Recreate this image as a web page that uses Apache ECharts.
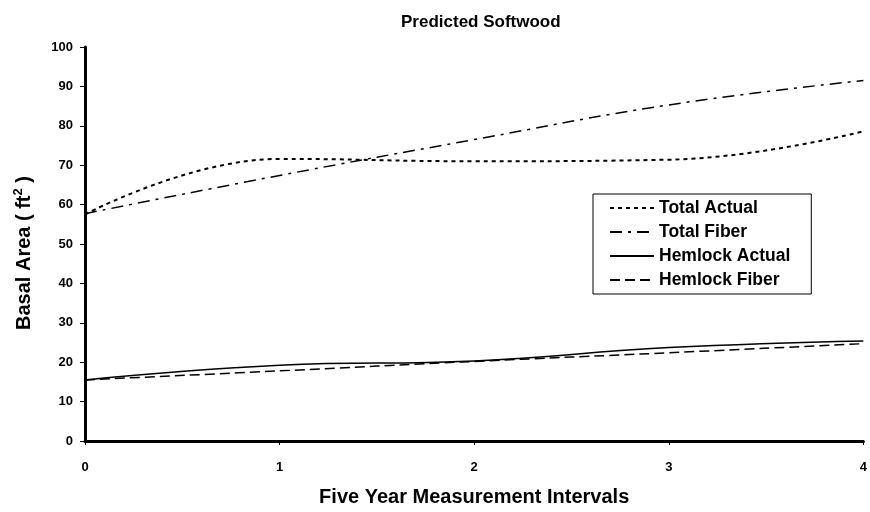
<!DOCTYPE html>
<html>
<head>
<meta charset="utf-8">
<script src="https://cdn.jsdelivr.net/npm/echarts@6/dist/echarts.min.js"></script>
<style>
  html, body { margin: 0; padding: 0; background: #fff; }
  #chart { width: 870px; height: 512px; }
</style>
</head>
<body>
<div id="chart"></div>
<script>
  const intervals = [0, 1, 2, 3, 4];
  const totalActual = [57.5, 71.6, 71.0, 71.4, 78.6];
  const totalFiber = [57.7, 67.4, 76.5, 85.3, 91.5];
  const hemlockActual = [15.5, 19.2, 20.3, 23.7, 25.4];
  const hemlockFiber = [15.5, 17.8, 20.2, 22.4, 24.7];

  const font = "'Liberation Sans', Arial, sans-serif";

  function pairs(vals) {
    return intervals.map((x, i) => [x, vals[i]]);
  }

  function lineSeries(name, vals, type, width) {
    return {
      name: name,
      type: 'line',
      smooth: 0.45,
      symbol: 'none',
      color: '#000',
      data: pairs(vals),
      lineStyle: { color: '#000', width: width, type: type }
    };
  }

  const myChart = echarts.init(document.getElementById('chart'));
  const options = {
    animation: false,
    backgroundColor: '#fff',
    title: {
      text: 'Predicted Softwood',
      left: 396,
      top: 9,
      textStyle: { fontFamily: font, fontSize: 17, fontWeight: 'bold', color: '#000' }
    },
    grid: { left: 85, right: 0, top: 47, bottom: 70 },
    legend: {
      orient: 'vertical',
      left: 593,
      top: 194,
      padding: [5, 21, 5, 16],
      itemWidth: 44,
      itemHeight: 17,
      itemGap: 6,
      borderColor: '#000',
      borderWidth: 1,
      borderRadius: 0,
      itemStyle: { opacity: 0 },
      textStyle: { fontFamily: font, fontSize: 17.5, fontWeight: 'bold', color: '#000' },
      data: ['Total Actual', 'Total Fiber', 'Hemlock Actual', 'Hemlock Fiber']
    },
    xAxis: {
      type: 'value',
      min: 0,
      max: 4,
      interval: 1,
      name: 'Five Year Measurement Intervals',
      nameLocation: 'middle',
      nameGap: 46,
      nameTextStyle: { fontFamily: font, fontSize: 20, fontWeight: 'bold', color: '#000' },
      axisLine: { lineStyle: { color: '#000', width: 3 } },
      axisTick: { show: true, length: 4, lineStyle: { color: '#000', width: 1 } },
      axisLabel: { margin: 20, fontFamily: font, fontSize: 13, fontWeight: 'bold', color: '#000' },
      splitLine: { show: false }
    },
    yAxis: {
      type: 'value',
      min: 0,
      max: 100,
      interval: 10,
      name: 'Basal Area ( ft{sup|2} )',
      nameLocation: 'middle',
      nameGap: 49,
      nameTextStyle: {
        fontFamily: font, fontSize: 20, fontWeight: 'bold', color: '#000',
        padding: [0, 18, 0, 0],
        rich: {
          sup: { fontFamily: font, fontSize: 13, fontWeight: 'bold', color: '#000', padding: [0, 0, 11, 0] }
        }
      },
      axisLine: { show: true, lineStyle: { color: '#000', width: 3 } },
      axisTick: { show: true, length: 5, lineStyle: { color: '#000', width: 1 } },
      axisLabel: { margin: 12, fontFamily: font, fontSize: 13, fontWeight: 'bold', color: '#000' },
      splitLine: { show: false }
    },
    series: [
      lineSeries('Total Actual', totalActual, [4, 4], 2),
      lineSeries('Total Fiber', totalFiber, [12, 6, 3, 6], 1.5),
      lineSeries('Hemlock Actual', hemlockActual, 'solid', 1.5),
      lineSeries('Hemlock Fiber', hemlockFiber, [10, 5], 1.5)
    ]
  };
  myChart.setOption(options, true);
  window.addEventListener('resize', function () {
    myChart.resize();
  });
</script>
</body>
</html>
